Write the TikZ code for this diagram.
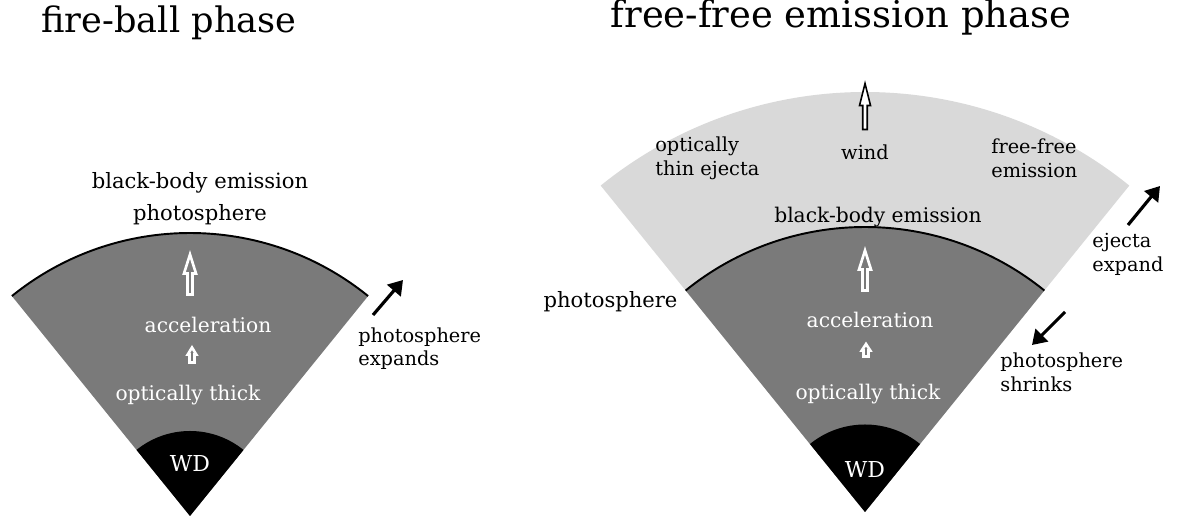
\documentclass[tikz,border=0pt]{standalone}
\usepackage{fontspec}
\setmainfont{DejaVu Serif}
\usepackage{tikz}
\usetikzlibrary{arrows.meta}

% block arrow pointing up: style, base, shaft half width, head half width, shaft length, head length
\newcommand{\upblock}[6]{%
  \draw[#1] (#2) ++(-#3,0) -- ++(0,#5) -- ++({#3-#4},0) -- ++(#4,#6)
    -- ++(#4,-#6) -- ++({#3-#4},0) -- ++(0,-#5) -- cycle;}

\begin{document}
\begin{tikzpicture}
  [every node/.style={inner sep=0pt},
   phasetitle/.style={font=\fontsize{20}{24}\selectfont},
   biglabel/.style={font=\fontsize{12}{18.2}\selectfont, align=center},
   sidelabel/.style={font=\fontsize{11}{13.4}\selectfont, align=left, anchor=west},
   inlabel/.style={font=\fontsize{11.5}{16}\selectfont, text=white},
   thickgas/.style={fill=black!52},
   thingas/.style={fill=black!15},
   core/.style={fill=black},
   photo/.style={line width=1.1pt},
   flow/.style={draw=white, line width=1.5pt},
   windflow/.style={draw=black, fill=white, line width=0.9pt},
   motion/.style={-{Triangle[length=8pt,width=10pt]}, line width=1.8pt}]
  \useasboundingbox (0,0) rectangle (23.66,10.46);

  % fire-ball phase
  \coordinate (fbApex) at (3.8,0.14);
  \fill[thickgas] (fbApex) -- ++(51:5.66) arc[start angle=51, end angle=129, radius=5.66] -- cycle;
  \draw[photo] (fbApex) ++(51:5.66) arc[start angle=51, end angle=129, radius=5.66];
  \fill[core] (fbApex) -- ++(51:1.7) arc[start angle=51, end angle=129, radius=1.7] -- cycle;
  \upblock{flow}{3.8,4.57}{0.05}{0.12}{0.42}{0.38}
  \upblock{flow}{3.84,3.21}{0.05}{0.085}{0.16}{0.14}

  \node[phasetitle, anchor=base] (fbTitle) at (3.38,9.8) {fire-ball phase};
  \node[biglabel] (fbPhoto) at (4.0,6.48) {black-body emission\\photosphere};
  \node[inlabel] (fbAcc) at (4.16,3.96) {acceleration};
  \node[inlabel] (fbThick) at (3.76,2.56) {optically thick};
  \node[inlabel, font=\fontsize{12.5}{16}\selectfont] (fbWD) at (3.8,1.18) {WD};
  \node[sidelabel] (fbExpands) at (7.16,3.49) {photosphere\\expands};
  \coordinate (fbTail) at (7.46,4.16);
  \coordinate (fbTip) at (8.06,4.86);
  \draw[motion] (fbTail) -- (fbTip);

  % free-free emission phase
  \coordinate (ffApex) at (17.3,0.22);
  \fill[thingas] (ffApex) -- ++(51:8.4) arc[start angle=51, end angle=129, radius=8.4] -- cycle;
  \fill[thickgas] (ffApex) -- ++(51:5.7) arc[start angle=51, end angle=129, radius=5.7] -- cycle;
  \draw[photo] (ffApex) ++(51:5.7) arc[start angle=51, end angle=129, radius=5.7];
  \fill[core] (ffApex) -- ++(51:1.75) arc[start angle=51, end angle=129, radius=1.75] -- cycle;
  \upblock{flow}{17.3,4.65}{0.05}{0.12}{0.42}{0.38}
  \upblock{flow}{17.32,3.33}{0.05}{0.085}{0.12}{0.13}
  \upblock{windflow}{17.3,7.87}{0.045}{0.11}{0.48}{0.44}

  \node[phasetitle, anchor=base, font=\fontsize{21}{24}\selectfont] (ffTitle) at (16.82,9.9) {free-free emission phase};
  \node[sidelabel] (ffThin) at (13.1,7.29) {optically\\thin ejecta};
  \node[sidelabel, anchor=center] (ffWind) at (17.3,7.42) {wind};
  \node[sidelabel] (ffFree) at (19.82,7.29) {free-free\\emission};
  \node[font=\fontsize{11.5}{16}\selectfont] (ffBB) at (17.56,6.12) {black-body emission};
  \node[biglabel] (ffPhoto) at (12.21,4.42) {photosphere};
  \node[inlabel] (ffAcc) at (17.4,4.06) {acceleration};
  \node[inlabel] (ffThick) at (17.36,2.58) {optically thick};
  \node[inlabel, font=\fontsize{12.5}{16}\selectfont] (ffWD) at (17.3,1.06) {WD};
  \node[sidelabel] (ffExpand) at (21.84,5.37) {ejecta\\expand};
  \node[sidelabel] (ffShrinks) at (20.0,3.01) {photosphere\\shrinks};
  \coordinate (ejTail) at (22.56,5.96);
  \coordinate (ejTip) at (23.2,6.74);
  \coordinate (phTail) at (21.3,4.22);
  \coordinate (phTip) at (20.64,3.56);
  \foreach \from/\to in {ejTail/ejTip,phTail/phTip}
    \draw[motion] (\from) -- (\to);
\end{tikzpicture}
\end{document}
